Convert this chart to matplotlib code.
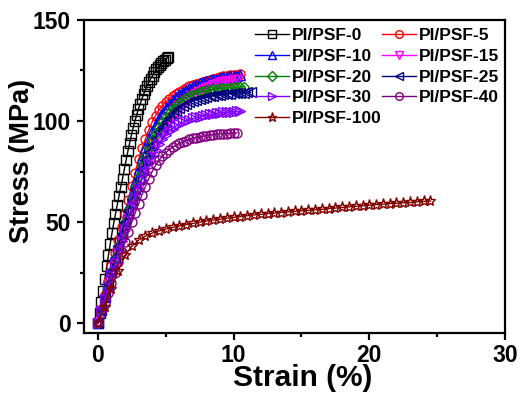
import matplotlib
matplotlib.use("Agg")
import matplotlib.pyplot as plt

plt.rcParams['font.family'] = ['Liberation Sans', 'DejaVu Sans']
plt.rcParams['font.weight'] = 'bold'

# ---- data ----
strain_0 = [0.00, 0.13, 0.26, 0.39, 0.52, 0.65, 0.78, 0.91, 1.04, 1.17, 1.30, 1.43, 1.56, 1.69,
            1.82, 1.95, 2.08, 2.21, 2.34, 2.47, 2.60, 2.73, 2.86, 2.99, 3.12, 3.25, 3.38, 3.51,
            3.64, 3.77, 3.90, 4.03, 4.16, 4.29, 4.42, 4.55, 4.68, 4.81, 4.94, 5.07, 5.20]
stress_0 = [0, 5, 10.5, 16, 22, 28, 33.5, 39, 44.5, 49.5, 54, 58.5, 63, 67.5,
            71.5, 76, 80.5, 85, 89, 93, 96.5, 100, 103, 106, 108.5, 111, 113.5, 115.5,
            117.5, 119.5, 121, 122.5, 124, 125.5, 126.5, 127.5, 128.5, 129.5, 130.3, 131, 131.5]

strain_grid = [0.00, 0.25, 0.50, 0.75, 1.00, 1.25, 1.50, 1.75, 2.00, 2.25, 2.50, 2.75, 3.00, 3.25,
               3.50, 3.75, 4.00, 4.25, 4.50, 4.75, 5.00, 5.25, 5.50, 5.75, 6.00, 6.25, 6.50, 6.75,
               7.00, 7.25, 7.50, 7.75, 8.00, 8.25, 8.50, 8.75, 9.00, 9.25, 9.50, 9.75, 10.00,
               10.25, 10.50, 10.75, 11.00, 11.25]

stress_5 = [0, 7, 14, 21, 28, 34.5, 41, 47.5, 54, 61, 68, 74.5, 81, 86.5, 91, 95.5, 99.5, 102.5,
            105.5, 107.5, 109.5, 111, 112.5, 113.5, 114.5, 115.5, 116.5, 117.2, 118, 118.5, 119,
            119.5, 120, 120.5, 121, 121.4, 121.8, 122.1, 122.4, 122.6, 122.8, 123, 123.1]
stress_10 = [0, 6.5, 13, 19.5, 26, 32, 38.5, 45, 51, 57.5, 64, 70, 76, 81.5, 86.5, 91, 95, 98.5,
             101.5, 104, 106.5, 108.5, 110.5, 112, 113.5, 114.5, 115.5, 116.5, 117.3, 118, 118.7,
             119.3, 119.8, 120.3, 120.7, 121, 121.3, 121.6, 121.9, 122.1, 122.3, 122.5, 122.6]
stress_15 = [0, 6, 12, 18, 24, 29.5, 35, 40.5, 46, 51.5, 57, 62, 67, 71.5, 76, 80, 84, 87.5, 91,
             94, 97, 99.5, 102, 104, 106, 107.8, 109.5, 111, 112.3, 113.5, 114.5, 115.5, 116.3,
             117, 117.7, 118.3, 118.8, 119.2, 119.6, 119.9, 120.2, 120.4]
stress_20 = [0, 6.5, 13, 19.5, 26, 32, 38, 44, 50, 56, 62, 67.5, 73, 78, 82.5, 86.5, 90.5, 94, 97,
             99.5, 102, 104, 106, 107.5, 109, 110.3, 111.3, 112.2, 113, 113.6, 114.2, 114.7,
             115.1, 115.5, 115.8, 116, 116.2, 116.3, 116.4, 116.5, 116.6, 116.7, 116.8, 116.9]
stress_25 = [0, 6.5, 13, 19.5, 26, 32, 38, 44, 50, 55.5, 61, 66.5, 71.5, 76, 80.5, 84.5, 88, 91.5,
             94.5, 97, 99.5, 101.5, 103.3, 105, 106.3, 107.5, 108.5, 109.3, 110, 110.6, 111.1,
             111.5, 111.9, 112.2, 112.5, 112.8, 113, 113.2, 113.4, 113.6, 113.7, 113.8, 113.9,
             114, 114.1, 114.2]
stress_30 = [0, 6, 12, 18, 24, 29.5, 35, 40.5, 46, 51.5, 57, 62, 66.5, 71, 75, 79, 82.5, 85.5,
             88.5, 91, 93, 94.8, 96.2, 97.4, 98.4, 99.3, 100, 100.7, 101.3, 101.8, 102.2, 102.6,
             103, 103.3, 103.6, 103.8, 104, 104.2, 104.4, 104.5, 104.6, 104.7, 104.8]
stress_40 = [0, 5, 10, 15, 20, 25, 30, 35, 40, 45, 50, 54.5, 59, 63.5, 67.5, 71.5, 75, 78, 80.5,
             82.5, 84.3, 85.8, 87, 88, 88.9, 89.7, 90.3, 90.9, 91.4, 91.8, 92.2, 92.5, 92.8, 93,
             93.2, 93.4, 93.6, 93.7, 93.8, 93.9, 94, 94.1]

strain_100 = [0.0, 0.5, 1.0, 1.5, 2.0, 2.5, 3.0, 3.5, 4.0, 4.5, 5.0, 5.5, 6.0, 6.5, 7.0, 7.5, 8.0,
              8.5, 9.0, 9.5, 10.0, 10.5, 11.0, 11.5, 12.0, 12.5, 13.0, 13.5, 14.0, 14.5, 15.0,
              15.5, 16.0, 16.5, 17.0, 17.5, 18.0, 18.5, 19.0, 19.5, 20.0, 20.5, 21.0, 21.5, 22.0,
              22.5, 23.0, 23.5, 24.0, 24.5]
stress_100 = [0, 8, 17, 26, 33.5, 38, 41, 43, 44.5, 45.6, 46.5, 47.3, 48, 48.7, 49.3, 49.9, 50.5,
              51, 51.4, 51.9, 52.3, 52.7, 53.1, 53.5, 53.8, 54.1, 54.4, 54.7, 55, 55.3, 55.5,
              55.8, 56, 56.3, 56.6, 56.9, 57.2, 57.5, 57.8, 58, 58.3, 58.6, 58.8, 59.1, 59.3,
              59.5, 59.7, 60, 60.2, 60.4]

labels = ['PI/PSF-0', 'PI/PSF-5', 'PI/PSF-10', 'PI/PSF-15', 'PI/PSF-20',
          'PI/PSF-25', 'PI/PSF-30', 'PI/PSF-40', 'PI/PSF-100']

series = [
    (strain_0, stress_0, 's', '#000000'),
    (strain_grid[:len(stress_5)], stress_5, 'o', '#FF0000'),
    (strain_grid[:len(stress_10)], stress_10, '^', '#0000FF'),
    (strain_grid[:len(stress_15)], stress_15, 'v', '#FF00FF'),
    (strain_grid[:len(stress_20)], stress_20, 'D', '#008000'),
    (strain_grid[:len(stress_25)], stress_25, '<', '#000080'),
    (strain_grid[:len(stress_30)], stress_30, '>', '#8000FF'),
    (strain_grid[:len(stress_40)], stress_40, 'o', '#800080'),
    (strain_100, stress_100, '*', '#800000'),
]

fig = plt.figure(figsize=(5.18, 3.99), dpi=100)
ax = fig.add_axes([0.1627, 0.165, 0.8123, 0.785])

handles = []
for (x, y, m, c), lab in zip(series, labels):
    ms = 6.5 if m != 'D' else 5.5
    if m == '*':
        ms = 8
    h, = ax.plot(x, y, marker=m, color=c, markerfacecolor='none', markeredgecolor=c,
                 markersize=ms, markeredgewidth=1.0, linewidth=1.0, label=lab)
    handles.append(h)

ax.set_xlim(-1.0, 30)
ax.set_ylim(-5, 150)
ax.set_xticks([0, 10, 20, 30])
ax.set_xticks([5, 15, 25], minor=True)
ax.set_yticks([0, 50, 100, 150])
ax.set_yticks([25, 75, 125], minor=True)

for s in ax.spines.values():
    s.set_linewidth(1.6)
ax.tick_params(which='major', direction='out', length=5, width=1.6, labelsize=16.5,
               top=False, right=False, pad=3)
ax.tick_params(axis='y', which='major', pad=4.5)
ax.tick_params(which='minor', direction='out', length=3, width=1.6, top=False, right=False)
for t in ax.get_xticklabels() + ax.get_yticklabels():
    t.set_fontweight('bold')

ax.set_xlabel('Strain (%)', fontsize=21.5, fontweight='bold')
ax.xaxis.set_label_coords(0.5185, -0.098)
ax.set_ylabel('Stress (MPa)', fontsize=19.5, fontweight='bold')
ax.yaxis.set_label_coords(-0.118, 0.55)

# row-wise legend order (matplotlib fills columns first)
order = [0, 2, 4, 6, 8, 1, 3, 5, 7]
leg = ax.legend([handles[i] for i in order], [labels[i] for i in order],
                ncol=2, loc='upper left', bbox_to_anchor=(0.4057, 0.974), frameon=False,
                prop={'weight': 'bold', 'size': 12.5}, handlelength=1.96, handletextpad=0.17,
                columnspacing=0.0, labelspacing=0.32, borderaxespad=0.0, borderpad=0.0,
                markerscale=0.85)

fig.savefig('out.png', dpi=100)
